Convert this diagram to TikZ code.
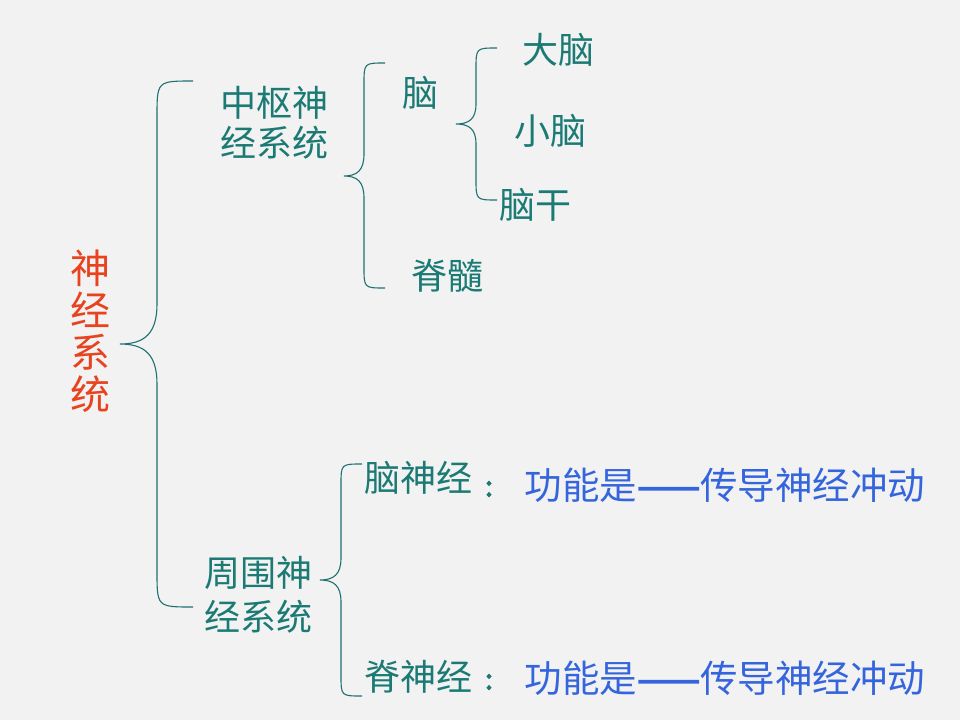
\documentclass[tikz,border=0pt]{standalone}
\usepackage{fontspec}
\setmainfont{Noto Sans CJK SC}
\newfontfamily\cjkbold[FakeBold=4]{Noto Sans CJK SC}
\definecolor{bgc}{HTML}{F2F2F2}
\definecolor{tealc}{HTML}{1B7A74}
\definecolor{linec}{HTML}{1F7070}
\definecolor{redc}{HTML}{E8421E}
\definecolor{bluec}{HTML}{3565DD}
\newcommand{\mybrace}[7]{%
  % #1 end x, #2 top y, #3 vertical x, #4 tip x, #5 tip y, #6 bottom y, #7 tip radius
  \draw[bracel] ({#1},{#2}) .. controls ({#3},{#2}) .. ({#3},{#2+(#1-#3)})
    -- ({#3},{#5-#7}) .. controls ({#3},{#5-0.25*#7}) and ({#3-0.35*(#3-#4)},{#5}) .. ({#4},{#5})
    .. controls ({#3-0.35*(#3-#4)},{#5}) and ({#3},{#5+0.25*#7}) .. ({#3},{#5+#7})
    -- ({#3},{#6-(#1-#3)}) .. controls ({#3},{#6}) .. ({#1},{#6});}
\begin{document}
\begin{tikzpicture}[x=1pt,y=-1pt,
  bracel/.style={draw=linec,line width=1.1pt},
  tt/.style={text=tealc,font=\fontsize{36}{40}\selectfont,inner sep=0pt,align=center},
  ct/.style={text=tealc,font=\fontsize{28}{30}\cjkbold,inner sep=0pt},
  bt/.style={text=bluec,font=\fontsize{37.5}{40}\selectfont,inner sep=0pt},
  rt/.style={text=redc,font=\fontsize{40}{42}\selectfont,inner sep=0pt,align=center}]
\fill[bgc] (0,0) rectangle (960,720);
\useasboundingbox (0,0) rectangle (960,720);
% braces
\mybrace{193}{81}{157}{120}{344}{607}{40}
\mybrace{385}{63}{364}{344}{176}{288}{22}
\mybrace{497}{48}{476}{456}{124}{200}{20}
\mybrace{362}{464}{341}{320}{580}{696}{22}
% texts
\node[rt] (root) at (90,331) {神\\经\\系\\统};
\node[tt] (cns) at (274,123) {中枢神\\经系统};
\node[tt] (brain) at (420,93) {脑};
\node[tt] (cere) at (558,50) {大脑};
\node[tt] (cereb) at (550,131) {小脑};
\node[tt] (stem) at (535,205) {脑干};
\node[tt] (cord) at (447,276) {脊髓};
\node[tt,font=\fontsize{36}{44}\selectfont] (pns) at (258,595) {周围神\\经系统};
\node[tt] (cn) at (418,478) {脑神经};
\node[ct] (c1) at (489,489) {:};
\node[bt] (f1) at (725,485) {功能是{\cjkbold ——}传导神经冲动};
\node[tt] (sn) at (418,677) {脊神经};
\node[ct] (c2) at (489,682) {:};
\node[bt] (f2) at (725,678) {功能是{\cjkbold ——}传导神经冲动};
\end{tikzpicture}
\end{document}
